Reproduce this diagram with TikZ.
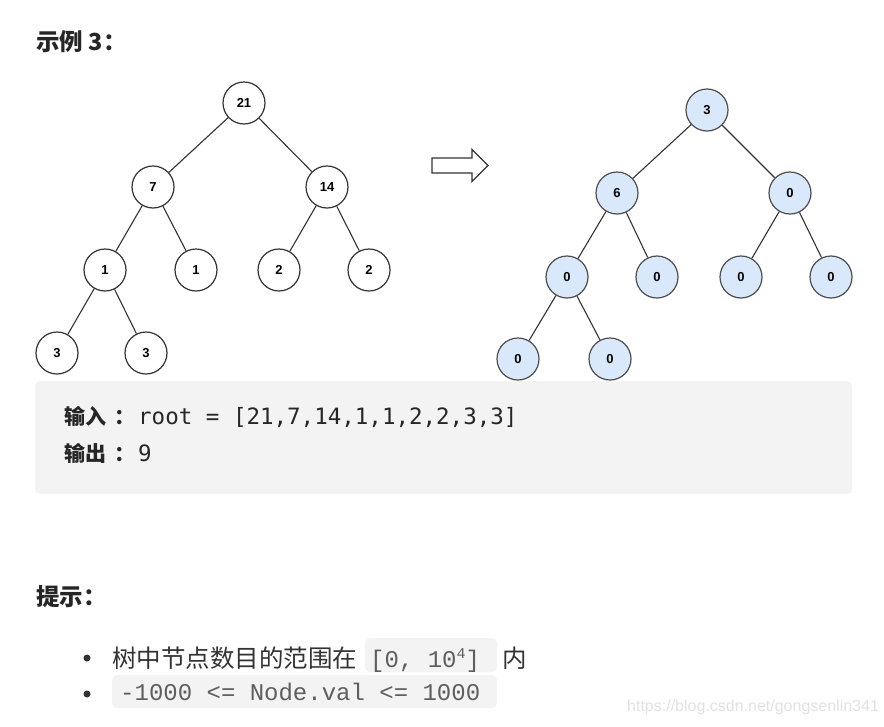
\documentclass[tikz,border=0pt]{standalone}
\usepackage{fontspec}
\setmainfont{Liberation Sans}
\newfontfamily\cjk{Noto Sans CJK SC}
\newfontfamily\cmono{DejaVu Sans Mono}
\newfontfamily\lmono{Liberation Mono}
\newfontfamily\nsans{Liberation Sans}
\definecolor{txt}{HTML}{262626}
\definecolor{edge}{HTML}{333333}
\definecolor{nodeblue}{HTML}{DAE8FC}
\definecolor{bluedge}{HTML}{4D4D4D}
\definecolor{codebg}{HTML}{F3F3F3}
\definecolor{chiptxt}{HTML}{5E5E5E}
\definecolor{wm}{HTML}{E2E2E2}
\begin{document}
\begin{tikzpicture}[x=1pt,y=-1pt,
  tnode/.style={circle, draw=edge, line width=1.2pt, minimum size=42pt, inner sep=0pt,
    font=\nsans\bfseries\fontsize{13}{13}\selectfont, text=black},
  bnode/.style={tnode, draw=bluedge, fill=nodeblue},
  tedge/.style={draw=edge, line width=1.1pt},
  head/.style={anchor=base west, inner sep=0pt, text=txt, font=\cjk\bfseries\fontsize{23.5}{23.5}\selectfont},
  boxlab/.style={anchor=base west, inner sep=0pt, text=txt, font=\cjk\bfseries\fontsize{21}{21}\selectfont},
  boxcode/.style={anchor=base west, inner sep=0pt, text=txt, font=\cmono\fontsize{22.5}{22.5}\selectfont},
  item/.style={anchor=base west, inner sep=0pt, text=edge, font=\cjk\fontsize{24.5}{24.5}\selectfont},
  chip/.style={anchor=base west, inner sep=0pt, text=chiptxt, font=\lmono\fontsize{24}{24}\selectfont},
  bulletdot/.style={circle, fill=edge, inner sep=0pt, minimum size=7pt}
]
\useasboundingbox (0,0) rectangle (884,726);
\fill[white] (0,0) rectangle (884,726);

% title
\node[head] (title) at (36,50.5) {示例 3\hspace{1pt}：};

% left tree
\node[tnode] (a) at (244,103) {21};
\node[tnode] (b) at (153,187) {7};
\node[tnode] (c) at (327,187) {14};
\node[tnode] (d) at (105,270) {1};
\node[tnode] (e) at (196,270) {1};
\node[tnode] (f) at (279,270) {2};
\node[tnode] (g) at (369,270) {2};
\node[tnode] (h) at (57,353) {3};
\node[tnode] (i) at (146,353) {3};
\draw[tedge] (a) -- (b);
\draw[tedge] (a) -- (c);
\draw[tedge] (b) -- (d);
\draw[tedge] (b) -- (e);
\draw[tedge] (c) -- (f);
\draw[tedge] (c) -- (g);
\draw[tedge] (d) -- (h);
\draw[tedge] (d) -- (i);

% block arrow
\draw[draw=edge, line width=1.3pt, line join=miter, fill=white]
  (432,158) -- (472,158) -- (472,149.5) -- (488,165.5) -- (472,181.5) -- (472,173) -- (432,173) -- cycle;

% right tree
\node[bnode] (ra) at (707,110) {3};
\node[bnode] (rb) at (617,193) {6};
\node[bnode] (rc) at (790,193) {0};
\node[bnode] (rd) at (567,277) {0};
\node[bnode] (re) at (657,277) {0};
\node[bnode] (rf) at (741,277) {0};
\node[bnode] (rg) at (831,277) {0};
\node[bnode] (rh) at (518,359) {0};
\node[bnode] (ri) at (610,359) {0};
\draw[tedge] (ra) -- (rb);
\draw[tedge] (ra) -- (rc);
\draw[tedge] (rb) -- (rd);
\draw[tedge] (rb) -- (re);
\draw[tedge] (rc) -- (rf);
\draw[tedge] (rc) -- (rg);
\draw[tedge] (rd) -- (rh);
\draw[tedge] (rd) -- (ri);

% example box
\fill[codebg, rounded corners=5pt] (35,381) rectangle (852,494);
\node[boxlab] (inlab) at (64,424) {输入\kern8pt：};
\node[boxcode] (incode) at (138,424) {root = [21,7,14,1,1,2,2,3,3]};
\node[boxlab] (outlab) at (64,461) {输出\kern8pt：};
\node[boxcode] (outcode) at (138,461) {9};

% hints
\node[head] (hint) at (36,605) {提示：};
\node[bulletdot] (b1) at (87,658) {};
\node[bulletdot] (b2) at (87,694) {};
\fill[codebg, rounded corners=5pt] (365,638) rectangle (497,672);
\fill[codebg, rounded corners=5pt] (112,675) rectangle (497,708);
\node[item] (t1) at (112,667) {树中节点数目的范围在};
\node[chip] (c1) at (370,667) {[0, 10\raisebox{9pt}{\fontsize{15}{15}\selectfont 4}]};
\node[item] (t1b) at (502,667) {内};
\node[chip] (c2) at (120,700) {-1000 <= Node.val <= 1000};

% watermark
\node[anchor=base west, inner sep=0pt, text=wm, font=\nsans\fontsize{16}{16}\selectfont] (wmk) at (627,711) {https://blog.csdn.net/gongsenlin341};
\end{tikzpicture}
\end{document}
